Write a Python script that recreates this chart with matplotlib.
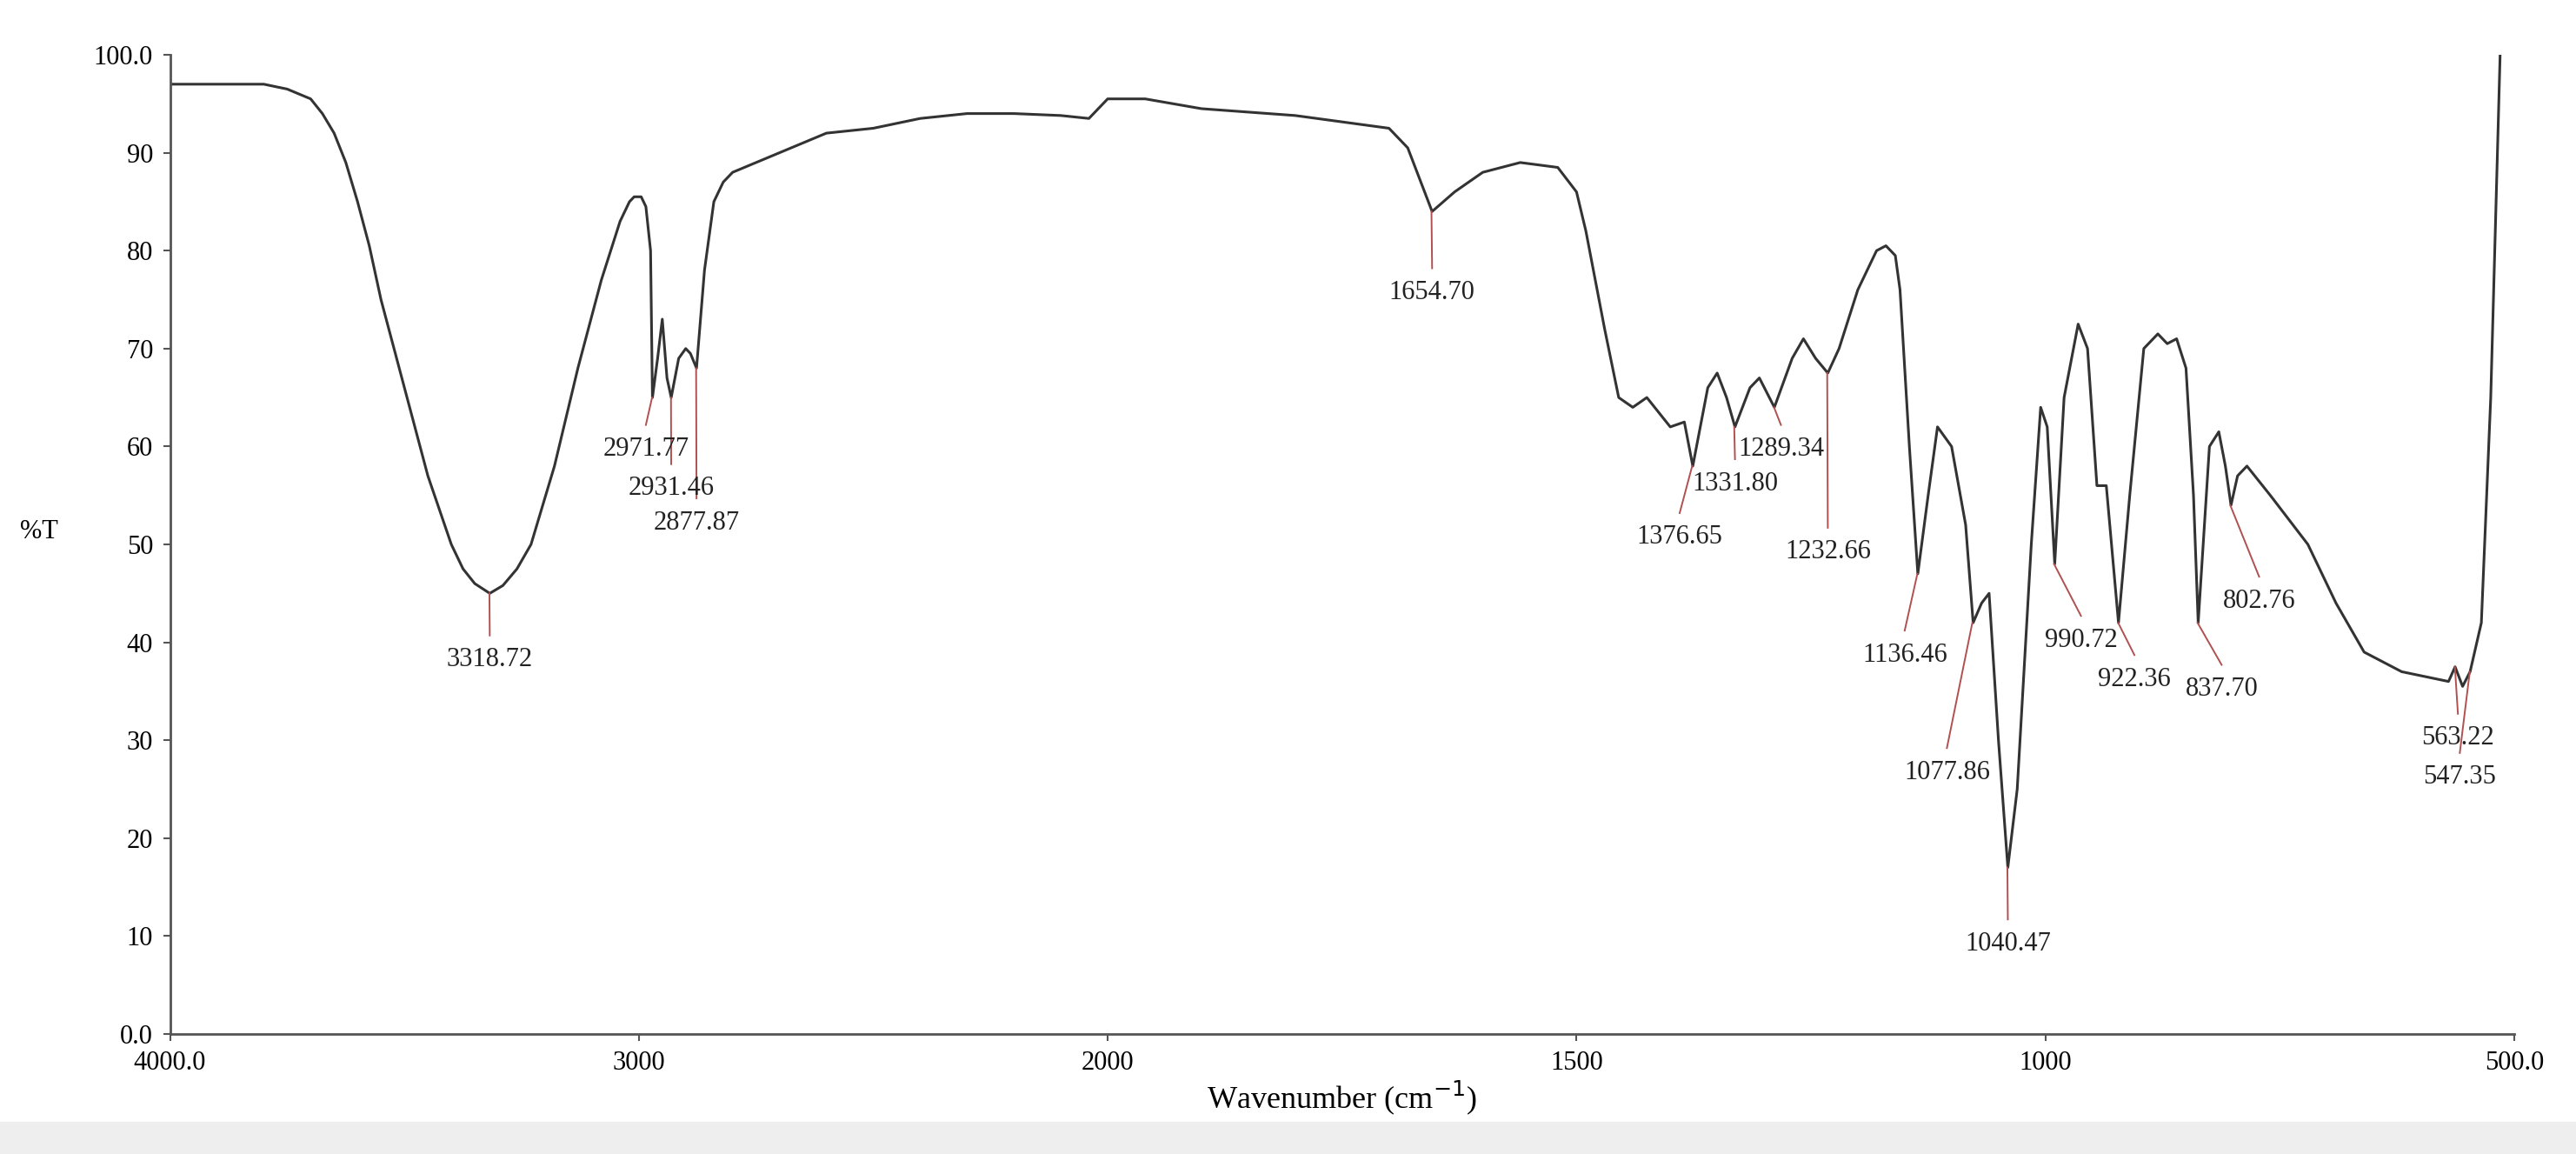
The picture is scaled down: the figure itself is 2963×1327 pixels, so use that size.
import numpy as np
import matplotlib.pyplot as plt
from matplotlib.patches import Rectangle

# spectrum (wavenumber, %T)
wavenumber = [4000, 3800, 3750, 3700, 3675, 3650, 3625, 3600, 3575, 3550, 3500, 3450, 3400, 3375,
              3350, 3318, 3290, 3260, 3230, 3180, 3130, 3080, 3040, 3020, 3010, 2995, 2985, 2975,
              2971, 2960, 2950, 2940, 2931, 2915, 2900, 2890, 2877, 2860, 2840, 2820, 2800, 2700,
              2600, 2500, 2400, 2300, 2200, 2100, 2040, 2000, 1960, 1900, 1800, 1700, 1680, 1670,
              1654, 1630, 1600, 1560, 1520, 1500, 1490, 1470, 1455, 1440, 1425, 1400, 1385, 1376,
              1360, 1350, 1340, 1331, 1315, 1305, 1289, 1270, 1258, 1245, 1232, 1220, 1200, 1180,
              1170, 1160, 1155, 1145, 1136, 1125, 1115, 1100, 1085, 1077, 1068, 1060, 1050, 1040,
              1030, 1015, 1005, 998, 990, 980, 965, 955, 945, 935, 922, 910, 895, 880, 870, 860,
              850, 842, 837, 825, 815, 808, 802, 795, 785, 760, 720, 690, 660, 620, 570, 563, 555,
              547, 535, 525, 515]
transmittance = [97, 97, 96.5, 95.5, 94, 92, 89, 85, 80.5, 75, 66, 57, 50, 47.5,
                 46, 45, 45.8, 47.5, 50, 58, 68, 77, 83, 85, 85.5, 85.5, 84.5, 80,
                 65, 69, 73, 67, 65, 69, 70, 69.5, 68, 78, 85, 87, 88, 90,
                 92, 92.5, 93.5, 94, 94, 93.8, 93.5, 95.5, 95.5, 94.5, 93.8, 92.5, 90.5, 88,
                 84, 86, 88, 89, 88.5, 86, 82, 72, 65, 64, 65, 62, 62.5, 58,
                 66, 67.5, 65, 62, 66, 67, 64, 69, 71, 69, 67.5, 70, 76, 80,
                 80.5, 79.5, 76, 60, 47, 55, 62, 60, 52, 42, 44, 45, 30, 17,
                 25, 50, 64, 62, 48, 65, 72.5, 70, 56, 56, 42, 55, 70, 71.5, 70.5, 71,
                 68, 55, 42, 60, 61.5, 58, 54, 57, 58, 55, 50, 44, 39, 37, 36, 37.5, 35.5,
                 37, 42, 65, 100]

# peak labels: (peak wn, peak %T, text wn, text %T)
peak_names = ["3318.72", "2971.77", "2931.46", "2877.87", "1654.70", "1376.65", "1331.80",
              "1289.34", "1232.66", "1136.46", "1077.86", "1040.47", "990.72", "922.36",
              "837.70", "802.76", "563.22", "547.35"]
peak_wn = [3318.72, 2971.77, 2931.46, 2877.87, 1654.70, 1376.65, 1331.80, 1289.34, 1232.66,
           1136.46, 1077.86, 1040.47, 990.72, 922.36, 837.70, 802.76, 563.22, 547.35]
peak_t = [45, 65, 65, 68, 84, 58, 62, 64, 67.5, 47, 42, 17, 48, 42, 42, 54, 37.5, 37]
label_wn = [3318, 2985, 2931, 2877, 1654, 1390, 1331, 1282, 1232, 1150, 1105, 1040, 962, 905,
            812, 772, 560, 558]
label_t = [39.5, 61, 57, 53.5, 77, 52, 57.5, 61, 50.5, 40, 28, 10.5, 41.5, 37.5, 36.5, 45.5, 31.5, 27.5]


def forward(x):
    x = np.asarray(x, dtype=float)
    return np.where(x >= 2000, 0.5 * (x - 2000), x - 2000)


def inverse(y):
    y = np.asarray(y, dtype=float)
    return np.where(y >= 0, 2 * y + 2000, y + 2000)


fig = plt.figure(figsize=(29.63, 13.27), dpi=100)
fig.patches.append(Rectangle((0, 0), 1, 0.028, transform=fig.transFigure, color='#eeeeee', zorder=-1))
ax = fig.add_axes([0.066, 0.104, 0.910, 0.8485])
ax.set_xscale('function', functions=(forward, inverse))
ax.plot(wavenumber, transmittance, color='#333333', lw=2.2)

for name, pw, pt, lw_, lt in zip(peak_names, peak_wn, peak_t, label_wn, label_t):
    ax.plot([pw, lw_], [pt, lt + 1.2], color='#b05050', lw=1.4)
    ax.text(lw_, lt, name, ha='center', va='top', fontsize=22, family='Liberation Serif', color='#222222')

ax.set_xlim(4000, 500)
ax.set_ylim(0, 100)
ax.set_xticks([4000, 3000, 2000, 1500, 1000, 500])
ax.set_xticklabels(['4000.0', '3000', '2000', '1500', '1000', '500.0'])
ax.set_yticks(np.arange(0, 101, 10))
ax.set_yticklabels(['0.0'] + [str(v) for v in range(10, 100, 10)] + ['100.0'])
ax.tick_params(labelsize=22, length=6, width=1.5, color='#555555', pad=8)
for lab in ax.get_xticklabels() + ax.get_yticklabels():
    lab.set_family('Liberation Serif')
for s in ['top', 'right']:
    ax.spines[s].set_visible(False)
for s in ['left', 'bottom']:
    ax.spines[s].set_color('#555555')
    ax.spines[s].set_linewidth(2)
ax.set_xlabel('Wavenumber (cm$^{-1}$)', fontsize=26, family='Liberation Serif', labelpad=2)
ax.set_ylabel('%T', fontsize=22, family='Liberation Serif', rotation=0, labelpad=45)

fig.savefig('out.png', dpi=100)
